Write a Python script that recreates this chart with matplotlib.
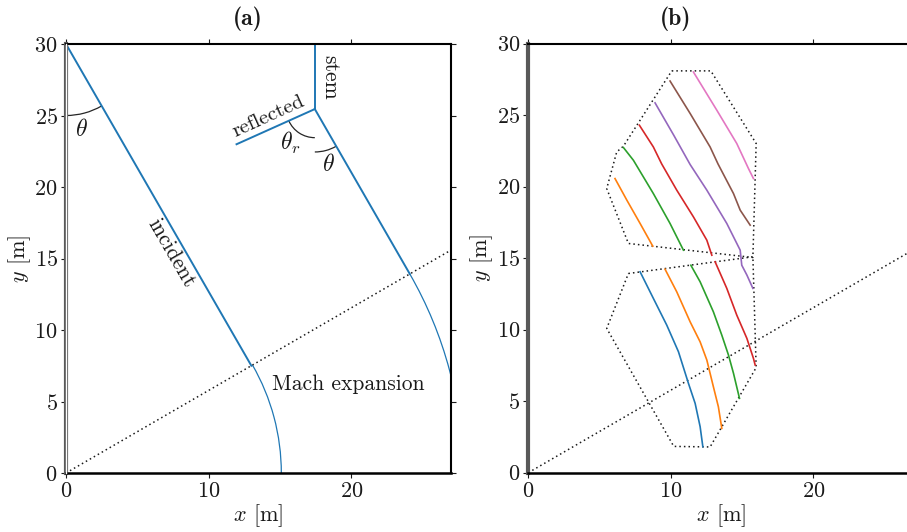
import numpy as np
import matplotlib
matplotlib.use("Agg")
import matplotlib.pyplot as plt
from matplotlib.patches import Arc

plt.rcParams["font.family"] = "cmr10"
plt.rcParams["mathtext.fontset"] = "cm"
plt.rcParams["axes.formatter.use_mathtext"] = True

TEXT = "0.1"
WALL = "0.35"

# ---- panel (a): schematic geometry ----
THETA = 30.0                      # incidence angle, deg
X_MAX, Y_MAX = 27, 30
INC_START = (0.0, 30.0)
INC_HIT = (13.0, 7.5)             # incident meets the Mach line
TRIPLE = (17.45, 25.45)           # triple point
STEM_TOP = (17.45, 30.0)
REFL_END = (11.96, 22.99)
INC2_HIT = (24.11, 13.92)
MACH_R = [15.1, 27.84]            # radii of the expanding fronts

# ---- panel (b): measured fronts ----
upper_poly_x = [10.06, 12.8, 15.98, 15.75, 7.02, 5.5, 6.2, 6.67, 10.06]
upper_poly_y = [28.1, 28.1, 23.02, 15.05, 16.03, 19.87, 22.43, 22.83, 28.1]
lower_poly_x = [7.02, 15.75, 15.98, 12.75, 10.2, 5.5, 7.02]
lower_poly_y = [13.93, 15.1, 7.35, 1.8, 1.84, 10.09, 13.93]

upper_fronts = {
    "C1": ([6.08, 6.91, 7.84, 8.73], [20.57, 19.06, 17.43, 15.84]),
    "C2": ([6.67, 7.37, 8.77, 9.94, 10.88], [22.74, 21.85, 19.52, 17.43, 15.56]),
    "C3": ([7.79, 8.77, 9.35, 10.41, 11.58, 12.52, 12.87],
           [24.3, 22.78, 21.6, 19.76, 17.89, 16.26, 15.21]),
    "C4": ([8.89, 10.2, 11.35, 12.52, 13.92, 14.86, 14.97, 15.33, 15.75],
           [25.86, 23.6, 21.55, 19.76, 17.43, 15.56, 14.51, 13.82, 12.89]),
    "C5": ([9.94, 11.35, 12.75, 13.3, 14.39, 14.86, 15.56],
           [27.39, 25.12, 22.78, 21.6, 19.52, 18.36, 17.31]),
    "C6": ([11.58, 13.22, 14.62, 15.44, 15.79], [28.02, 25.35, 23.02, 21.27, 20.57]),
}
lower_fronts = {
    "C0": ([7.84, 8.77, 9.71, 10.53, 11.23, 11.7, 12.05, 12.24],
           [14.05, 12.19, 10.32, 8.46, 6.25, 4.85, 3.22, 1.82]),
    "C1": ([9.59, 10.41, 11.35, 12.05, 12.52, 12.98, 13.33, 13.57],
           [14.23, 12.65, 10.55, 9.15, 7.88, 6.01, 4.61, 3.1]),
    "C2": ([11.4, 12.05, 12.98, 13.57, 14.04, 14.39, 14.81],
           [14.51, 13.35, 11.25, 9.62, 8.22, 6.95, 5.2]),
    "C3": ([13.1, 13.92, 14.62, 15.33, 15.79, 15.91],
           [14.75, 12.89, 11.02, 9.39, 7.99, 7.53]),
}

fig = plt.figure(figsize=(9.07, 5.32), dpi=100)
ax_a = fig.add_axes([66 / 907, 59 / 532, 385 / 907, 429 / 532])
ax_b = fig.add_axes([528.3 / 907, 59.3 / 532, 385 / 907, 429 / 532])


def style_axes(ax):
    ax.set_xlim(0, X_MAX)
    ax.set_ylim(0, Y_MAX)
    ax.set_xticks([0, 10, 20])
    ax.set_yticks([0, 5, 10, 15, 20, 25, 30])
    ax.tick_params(direction="out", top=True, right=True, labelsize=16,
                   colors=TEXT, length=3.5, width=0.8, pad=2.5)
    ax.spines["top"].set_linewidth(1.5)
    ax.spines["right"].set_linewidth(1.5)
    ax.spines["bottom"].set_linewidth(1.8)
    for s in ("top", "right", "bottom"):
        ax.spines[s].set_color("black")
    ax.spines["left"].set_color(WALL)
    ax.spines["left"].set_linewidth(3)
    ax.set_xlabel("$x$ [m]", fontsize=16, color=TEXT, labelpad=1)
    ax.set_ylabel("$y$ [m]", fontsize=16, color=TEXT, labelpad=1)
    ax.axline((0, 0), slope=np.tan(np.radians(THETA)), color="0.1",
              ls=(0, (1, 2)), lw=1.1)


# ---------------- (a) ----------------
ax = ax_a
style_axes(ax)
ax.plot([0, 0], [0, Y_MAX], color="white", lw=1.0, clip_on=False, zorder=3)

blue = "C0"
ax.plot([INC_START[0], INC_HIT[0]], [INC_START[1], INC_HIT[1]], color=blue, lw=1.4)
ax.plot([STEM_TOP[0], TRIPLE[0]], [STEM_TOP[1], TRIPLE[1]], color=blue, lw=1.4)
ax.plot([TRIPLE[0], REFL_END[0]], [TRIPLE[1], REFL_END[1]], color=blue, lw=1.4)
ax.plot([TRIPLE[0], INC2_HIT[0]], [TRIPLE[1], INC2_HIT[1]], color=blue, lw=1.4)
for r in MACH_R:
    ax.add_patch(Arc((0, 0), 2 * r, 2 * r, theta1=0, theta2=THETA,
                     color=blue, lw=0.9))

refl_ang = np.degrees(np.arctan2(REFL_END[1] - TRIPLE[1], REFL_END[0] - TRIPLE[0])) % 360
ax.add_patch(Arc(INC_START, 10, 10, theta1=-90, theta2=-90 + THETA, color="0.15", lw=0.9))
ax.add_patch(Arc(TRIPLE, 6, 6, theta1=-90, theta2=-90 + THETA, color="0.15", lw=0.9))
ax.add_patch(Arc(TRIPLE, 4, 4, theta1=refl_ang, theta2=270, color="0.15", lw=0.9))

ax.text(1.1, 24.0, r"$\theta$", fontsize=17, color=TEXT, ha="center", va="center")
ax.text(18.38, 21.54, r"$\theta$", fontsize=17, color=TEXT, ha="center", va="center")
ax.text(15.7, 23.05, r"$\theta_r$", fontsize=17, color=TEXT, ha="center", va="center")
ax.text(18.5, 27.7, "stem", fontsize=15.5, color=TEXT, rotation=-90,
        ha="center", va="center")
ax.text(14.18, 24.92, "reflected", fontsize=15, color=TEXT, rotation=24.4,
        ha="center", va="center", rotation_mode="anchor")
ax.text(7.35, 15.36, "incident", fontsize=15.5, color=TEXT, rotation=-60,
        ha="center", va="center", rotation_mode="anchor")
ax.text(14.44, 5.8, "Mach expansion", fontsize=15.5, color=TEXT, ha="left",
        va="baseline")

# ---------------- (b) ----------------
ax = ax_b
style_axes(ax)
ax.spines["right"].set_visible(False)
ax.plot(upper_poly_x, upper_poly_y, color="0.1", ls=(0, (1, 2)), lw=1.1)
ax.plot(lower_poly_x, lower_poly_y, color="0.1", ls=(0, (1, 2)), lw=1.1)
for c, (xs, ys) in upper_fronts.items():
    ax.plot(xs, ys, color=c, lw=1.2)
for c, (xs, ys) in lower_fronts.items():
    ax.plot(xs, ys, color=c, lw=1.2)

fig.text(248 / 907, 1 - 19 / 532, "(a)", fontfamily="cmb10", fontsize=17,
         ha="center", va="center", color=TEXT)
fig.text(676 / 907, 1 - 19 / 532, "(b)", fontfamily="cmb10", fontsize=17,
         ha="center", va="center", color=TEXT)

fig.savefig("out.png", dpi=100)
